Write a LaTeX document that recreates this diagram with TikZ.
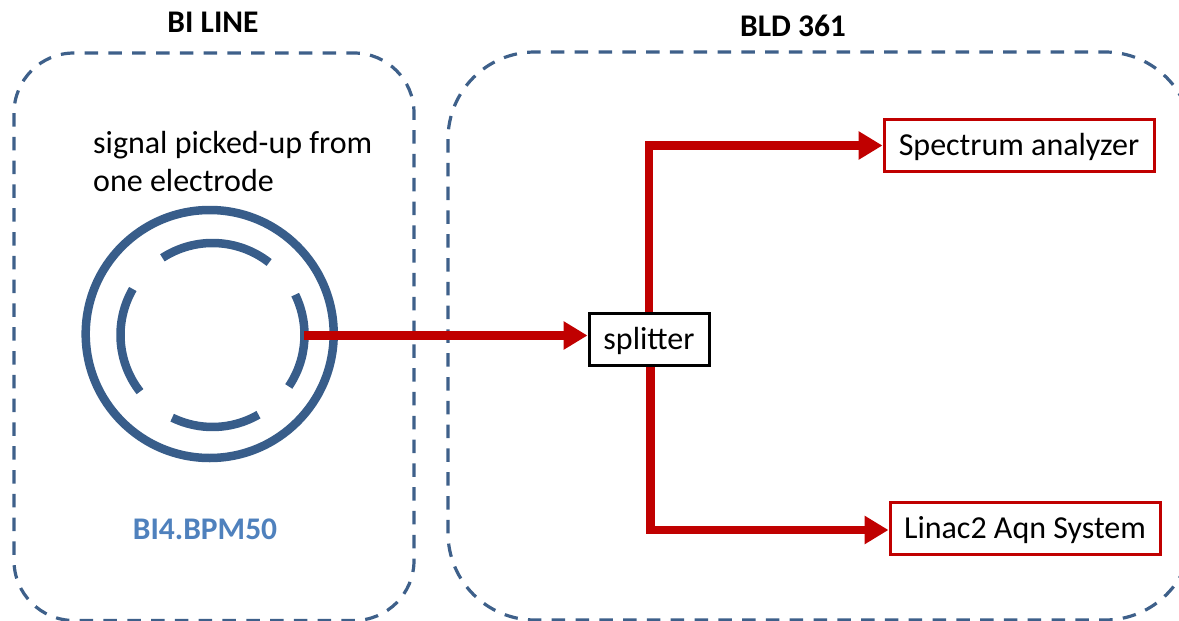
\documentclass[tikz,border=0pt]{standalone}
\usepackage{fontspec}
\setmainfont{Carlito}
\usepackage{xcolor}
\usetikzlibrary{positioning,calc,arrows.meta}
\definecolor{ringblue}{RGB}{56,93,138}
\definecolor{dashblue}{RGB}{62,96,138}
\definecolor{labelblue}{RGB}{79,129,189}
\definecolor{sigred}{RGB}{192,0,0}
\begin{document}
\begin{tikzpicture}[x=1pt,y=-1pt,
            region/.style={draw=dashblue, line width=3.2pt, dash pattern=on 13.5pt off 10.3pt},
            title/.style={font=\fontsize{31.5}{36}\selectfont\bfseries, inner sep=0pt},
            plain/.style={font=\fontsize{32}{38}\selectfont, inner sep=0pt},
            box/.style={draw=sigred, line width=3pt, fill=white, font=\fontsize{32}{38}\selectfont, inner sep=0pt, minimum height=52pt, text height=25pt, text depth=5pt},
            signal/.style={draw=sigred, line width=8.5pt, -{Triangle[length=24pt,width=27pt]}},
            ring/.style={draw=ringblue, line width=8.5pt}
        ]
            \useasboundingbox (0,0) rectangle (1179,621);
            % Regions
            \draw[region, rounded corners=60pt] (14,53) rectangle (414,620.5);
            \draw[region, rounded corners=87pt] (448,52) rectangle (1192,620);
            \node[title] (biline) at (213,22) {BI LINE};
            \node[title] (bld) at (793,26) {BLD 361};

            % Pick-up
            \node[plain, align=left, anchor=west] (pickup) at (93,162) {signal picked-up from\\one electrode};
            \coordinate (bpm) at (212.5,335);
            \draw[ring] (209.7,334) circle (124);
            \foreach \a/\b in {-123/-52, -150/-218, 116/60, 34/-26}
                \draw[ring] ($(bpm)+(\a:92)$) arc (\a:\b:92);
            \node[title, text=labelblue] (bpmname) at (205,529) {BI4.BPM50};
            \coordinate (pick) at (304,335.5);

            % Splitter and receivers
            \node[box, draw=black, minimum width=120pt] (splitter) at (649,339.5) {splitter};
            \node[box, minimum width=270pt] (analyzer) at (1019,145.5) {Spectrum analyzer};
            \node[box, minimum width=270pt] (aqn) at (1025,528.5) {Linac2 Aqn System};

            \draw[signal] (pick) -- (pick -| splitter.west);
            \draw[signal] (splitter.north) |- (analyzer.west);
            \draw[signal] ([xshift=1.5pt]splitter.south) |- ([yshift=-1.5pt]aqn.west);
        \end{tikzpicture}
\end{document}
